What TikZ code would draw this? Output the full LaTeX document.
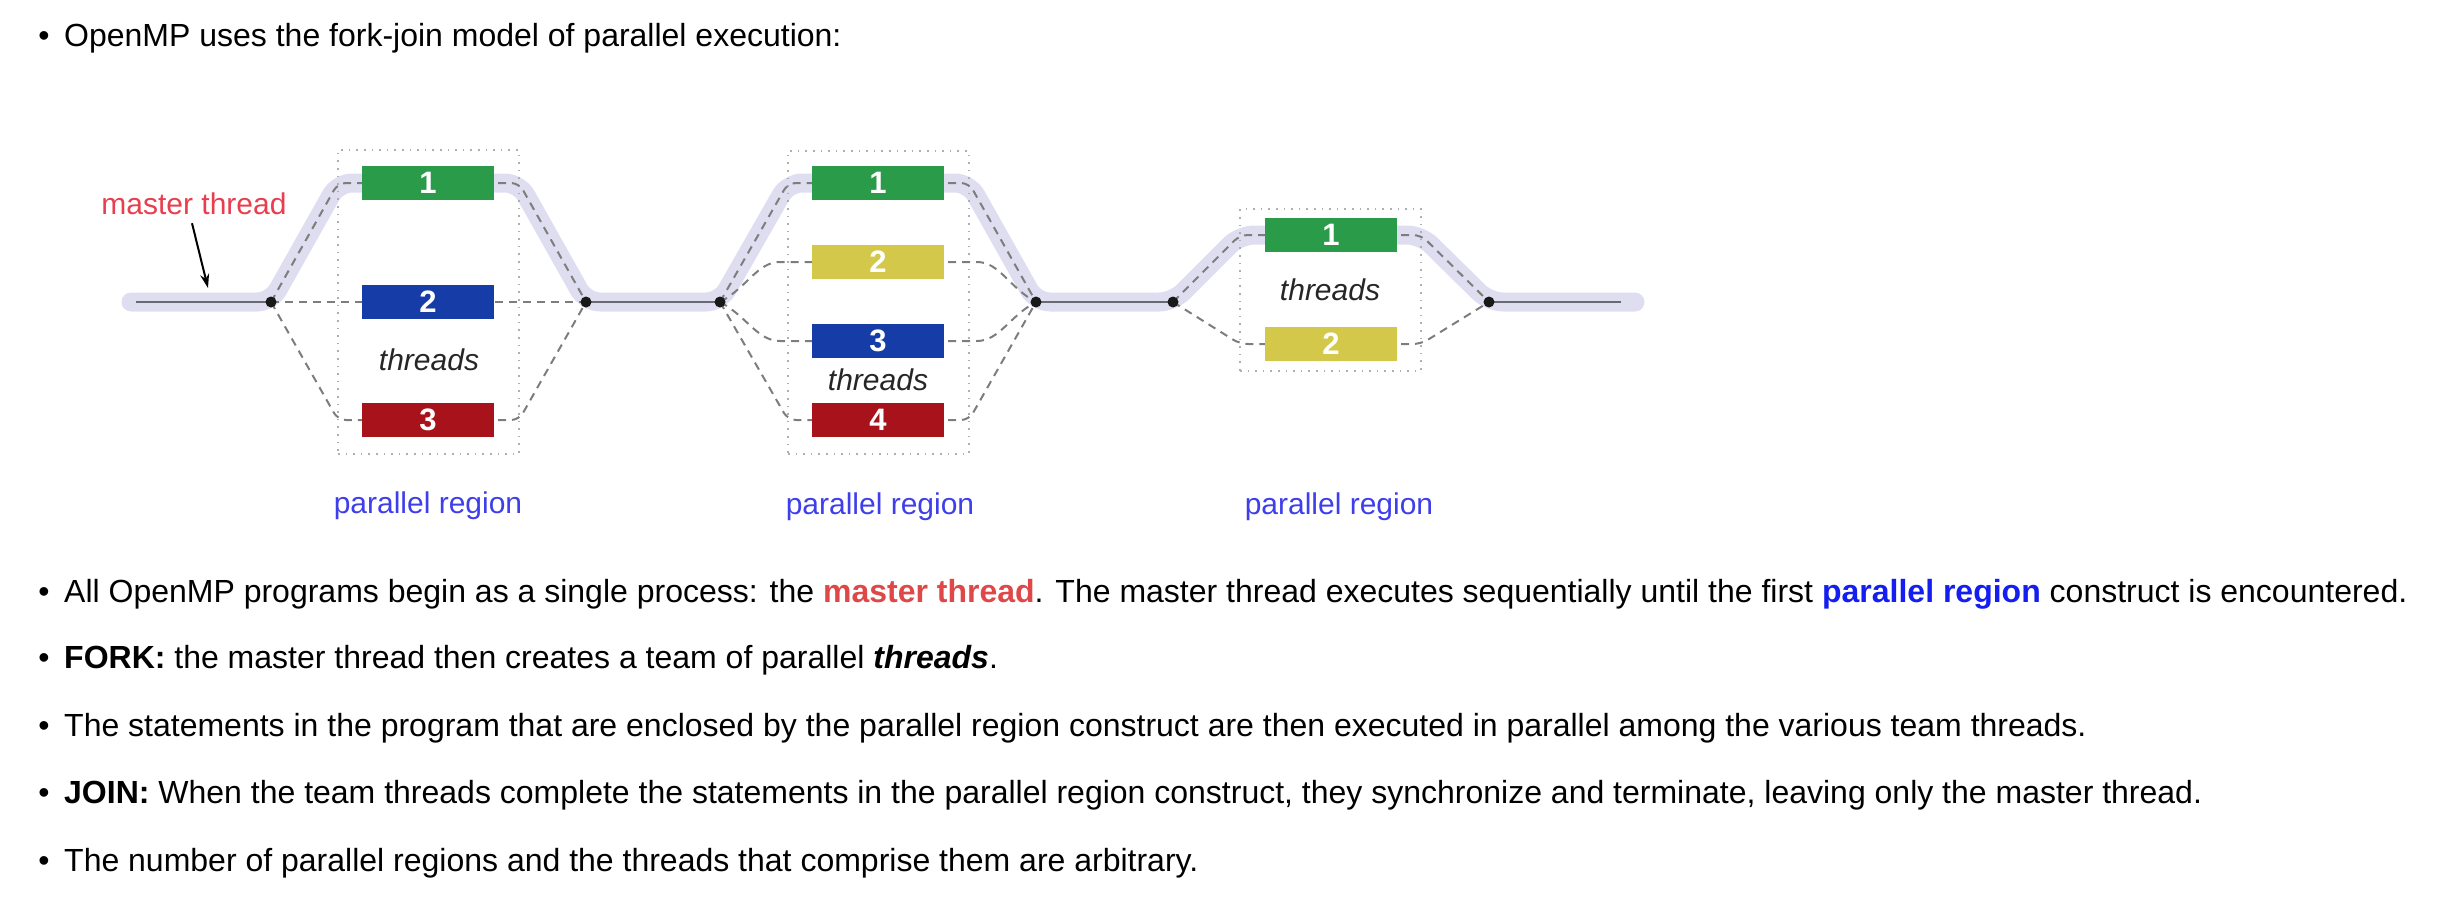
\documentclass[tikz,border=0pt]{standalone}
\usepackage{fontspec}
\setmainfont{Liberation Sans}
\usetikzlibrary{arrows.meta}
\definecolor{bandc}{RGB}{223,221,240}
\definecolor{mline}{RGB}{105,105,115}
\definecolor{dashc}{RGB}{125,125,125}
\definecolor{dotc}{RGB}{175,175,175}
\definecolor{gbox}{RGB}{42,155,72}
\definecolor{ybox}{RGB}{212,200,74}
\definecolor{bbox}{RGB}{22,60,168}
\definecolor{rbox}{RGB}{168,18,26}
\definecolor{mred}{RGB}{232,62,78}
\definecolor{pblue}{RGB}{62,62,235}
\definecolor{tred}{RGB}{222,72,72}
\definecolor{tblue}{RGB}{20,30,240}
\begin{document}
\begin{tikzpicture}[x=1pt,y=-1pt,
  band/.style={line width=19, draw=bandc, line cap=round, line join=round, rounded corners=14},
  mainline/.style={line width=2.5, draw=mline},
  thr/.style={line width=2, draw=dashc, dash pattern=on 8pt off 6pt, rounded corners=8},
  regbox/.style={draw=dotc, line width=1.6, dash pattern=on 1.6pt off 6pt, inner sep=0},
  tbox/.style={minimum width=132, minimum height=34, inner sep=0, text=white, font=\fontsize{31}{31}\selectfont\bfseries},
  dotn/.style={circle, fill=black!90, inner sep=0, minimum size=11},
  lbl/.style={inner sep=0, font=\fontsize{30}{30}\selectfont},
  body/.style={anchor=base west, inner sep=0, font=\fontsize{32}{38}\selectfont},
  bul/.style={anchor=base, inner sep=0, font=\fontsize{32}{38}\selectfont}
]
\useasboundingbox (0,0) rectangle (2446,902);

% key points
\coordinate (s0) at (131,302);
\coordinate (e0) at (1635,302);
\coordinate (gs) at (136,302);
\coordinate (ge) at (1621,302);
\coordinate (a1) at (338,183); \coordinate (b1) at (519,183);
\coordinate (a2) at (788,183); \coordinate (b2) at (969,183);
\coordinate (a3) at (1240,235); \coordinate (b3) at (1421,235);

% fork / join points
\node[dotn] (f1) at (271,302) {};
\node[dotn] (j1) at (586,302) {};
\node[dotn] (f2) at (720,302) {};
\node[dotn] (j2) at (1036,302) {};
\node[dotn] (f3) at (1173,302) {};
\node[dotn] (j3) at (1489,302) {};

% master thread band
\begin{scope}[on background layer/.style={}]
\draw[band] (s0) -- (f1.center) -- (a1) -- (b1) -- (j1.center) -- (f2.center) -- (a2) -- (b2) -- (j2.center) -- (f3.center) -- (a3) -- (b3) -- (j3.center) -- (e0);
\end{scope}
\draw[mainline] (gs) -- (f1.center);
\draw[mainline] (j1.center) -- (f2.center);
\draw[mainline] (j2.center) -- (f3.center);
\draw[mainline] (j3.center) -- (ge);

% region frames
\node[regbox, minimum width=181, minimum height=304] (r1) at (428.5,302) {};
\node[regbox, minimum width=181, minimum height=303] (r2) at (878.5,302.5) {};
\node[regbox, minimum width=181, minimum height=162] (r3) at (1330.5,290) {};

% thread boxes (placed first as coordinates for paths)
\path (428,183) coordinate (p11) (428,302) coordinate (p12) (428,420) coordinate (p13);
\path (878,183) coordinate (p21) (878,262) coordinate (p22) (878,341) coordinate (p23) (878,420) coordinate (p24);
\path (1331,235) coordinate (p31) (1331,344) coordinate (p32);

% dashed thread paths
% region 1
\draw[thr] (f1.center) -- (a1) -- (p11);
\draw[thr] (p11) -- (b1) -- (j1.center);
\draw[thr] (f1.center) -- (j1.center);
\draw[thr] (f1.center) -- (338,420) -- (p13);
\draw[thr] (p13) -- (519,420) -- (j1.center);
% region 2
\draw[thr] (f2.center) -- (a2) -- (p21);
\draw[thr] (p21) -- (b2) -- (j2.center);
\draw[thr] (f2.center) to[out=28,in=180] (788,262) -- (p22);
\draw[thr] (p22) -- (969,262) to[out=0,in=152] (j2.center);
\draw[thr] (f2.center) to[out=-28,in=180] (788,341) -- (p23);
\draw[thr] (p23) -- (969,341) to[out=0,in=-152] (j2.center);
\draw[thr] (f2.center) -- (788,420) -- (p24);
\draw[thr] (p24) -- (969,420) -- (j2.center);
% region 3
\draw[thr] (f3.center) -- (a3) -- (p31);
\draw[thr] (p31) -- (b3) -- (j3.center);
\draw[thr] (f3.center) -- (1240,344) -- (p32);
\draw[thr] (p32) -- (1421,344) -- (j3.center);

% boxes
\node[tbox, fill=gbox] (t11) at (p11) {1};
\node[tbox, fill=bbox] (t12) at (p12) {2};
\node[tbox, fill=rbox] (t13) at (p13) {3};
\node[tbox, fill=gbox] (t21) at (p21) {1};
\node[tbox, fill=ybox] (t22) at (p22) {2};
\node[tbox, fill=bbox] (t23) at (p23) {3};
\node[tbox, fill=rbox] (t24) at (p24) {4};
\node[tbox, fill=gbox] (t31) at (p31) {1};
\node[tbox, fill=ybox] (t32) at (p32) {2};

% redraw dots on top
\fill[black!90] (f1) circle (5.5) (j1) circle (5.5) (f2) circle (5.5) (j2) circle (5.5) (f3) circle (5.5) (j3) circle (5.5);

% labels
\node[lbl, text=black!85, font=\fontsize{30}{30}\selectfont\itshape] (th1) at (429,360) {threads};
\node[lbl, text=black!85, font=\fontsize{30}{30}\selectfont\itshape] (th2) at (878,380) {threads};
\node[lbl, text=black!85, font=\fontsize{30}{30}\selectfont\itshape] (th3) at (1330,290) {threads};
\node[lbl, text=pblue] (pr1) at (428,506) {parallel region};
\node[lbl, text=pblue] (pr2) at (880,507) {parallel region};
\node[lbl, text=pblue] (pr3) at (1339,507) {parallel region};
\node[lbl, text=mred] (mt) at (194,204) {master thread};
\coordinate (mtarrow) at (208,288);
\draw[line width=2, -{Stealth[length=14pt,width=9pt]}] (mt.south) ++(-2,8) coordinate (mtstart) -- (mtarrow);

% text lines
\node[bul] (b1t) at (44,46) {•};
\node[body] (l1) at (64,46) {OpenMP uses the fork-join model of parallel execution:};
\node[bul] (b2t) at (44,602) {•};
\node[body] (l2) at (64,602) {All OpenMP programs begin as a single process: the \textcolor{tred}{\bfseries master thread}. The master thread executes sequentially until the first \textcolor{tblue}{\bfseries parallel region} construct is encountered.};
\node[bul] (b3t) at (44,668) {•};
\node[body] (l3) at (64,668) {\bfseries FORK:\mdseries{} the master thread then creates a team of parallel \textbf{\textit{threads}}.};
\node[bul] (b4t) at (44,736) {•};
\node[body] (l4) at (64,736) {The statements in the program that are enclosed by the parallel region construct are then executed in parallel among the various team threads.};
\node[bul] (b5t) at (44,803) {•};
\node[body] (l5) at (64,803) {\bfseries JOIN:\mdseries{} When the team threads complete the statements in the parallel region construct, they synchronize and terminate, leaving only the master thread.};
\node[bul] (b6t) at (44,871) {•};
\node[body] (l6) at (64,871) {The number of parallel regions and the threads that comprise them are arbitrary.};
\end{tikzpicture}
\end{document}
